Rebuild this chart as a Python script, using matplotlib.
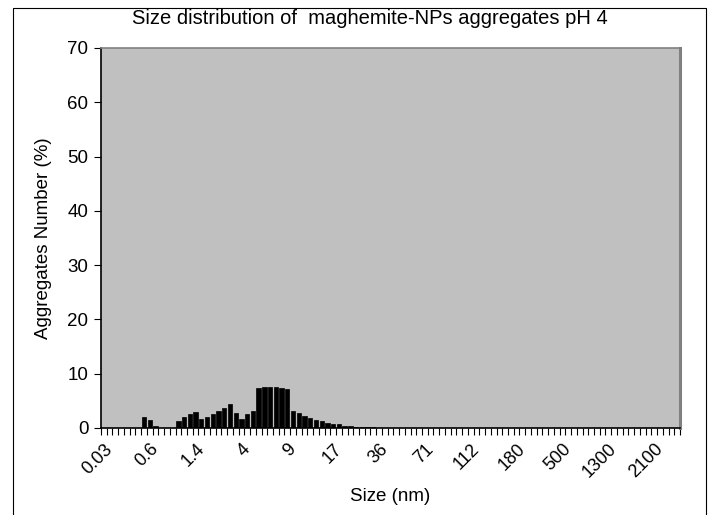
import matplotlib.pyplot as plt
from matplotlib.lines import Line2D

plt.rcParams['font.family'] = ['Liberation Sans', 'DejaVu Sans']

# size classes (nm) shown on the axis, one every 8 categories
size_labels = ['0.03', '0.6', '1.4', '4', '9', '17', '36', '71',
               '112', '180', '500', '1300', '2100']
label_step = 8
n_classes = 101

# aggregates number (%) per size class
head_zeros = [0] * 7
counts_small = [2.1, 1.5, 0.4, 0, 0, 0]
counts_main = [1.35, 1.95, 2.6, 2.9, 1.7, 2.1, 2.6, 3.1, 3.7, 4.5,
               2.8, 1.6, 2.6, 3.1, 7.4, 7.55, 7.55, 7.5, 7.4, 7.2,
               3.1, 2.8, 2.3, 1.8, 1.5, 1.2, 0.9, 0.8, 0.65, 0.45,
               0.45, 0.25, 0.25, 0.2, 0.2]
counts = head_zeros + counts_small + counts_main
counts = counts + [0] * (n_classes - len(counts))

fig = plt.figure(figsize=(7.16, 5.15), dpi=100)
ax = fig.add_axes([101 / 716, 1 - 428 / 515, 579 / 716, 380 / 515])
ax.set_facecolor('#c0c0c0')

x = list(range(n_classes))
ax.bar(x, counts, width=0.75, color='black', edgecolor='black', linewidth=0.5)

ax.set_xlim(-0.5, n_classes - 0.5)
ax.set_ylim(0, 70)
ax.set_yticks(range(0, 71, 10))

ax.set_xticks(x[::label_step])
ax.set_xticklabels(size_labels, rotation=45, ha='right', va='top',
                   rotation_mode='anchor', fontsize=13)
ax.set_xticks([i - 0.5 for i in range(n_classes + 1)], minor=True)
ax.tick_params(axis='x', which='major', length=0, pad=9)
ax.tick_params(axis='x', which='minor', length=5, width=0.8, color='black')
ax.tick_params(axis='y', length=5, width=0.8, labelsize=13.5, pad=4)

for side in ('top', 'right'):
    ax.spines[side].set_color('#808080')
ax.spines['right'].set_linewidth(2.2)
ax.spines['top'].set_linewidth(1.2)
ax.spines['left'].set_linewidth(1.2)
ax.spines['bottom'].set_linewidth(1.2)

ax.set_xlabel('Size (nm)', fontsize=13.5, labelpad=5)
ax.set_ylabel('Aggregates Number (%)', fontsize=13.5, labelpad=11)
fig.text(370 / 716, 1 - 19 / 515, 'Size distribution of  maghemite-NPs aggregates pH 4',
         ha='center', va='center', fontsize=14.5)

# chart border (left, top, right)
bx0, bx1, by = 12.5 / 716, 705.5 / 716, 1 - 7.5 / 515
fig.add_artist(Line2D([bx0, bx0, bx1, bx1], [0, by, by, 0],
                      transform=fig.transFigure, color='black', lw=0.8))

fig.savefig('out.png', dpi=100)
